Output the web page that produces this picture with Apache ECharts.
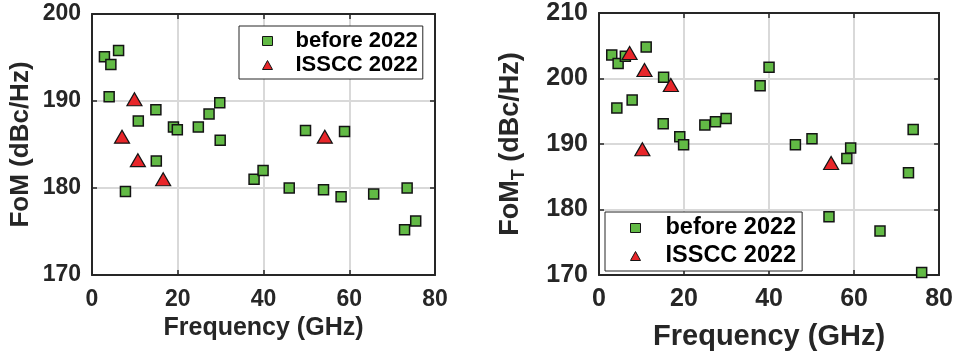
<!DOCTYPE html>
<html>
<head>
<meta charset="utf-8">
<script src="https://cdn.jsdelivr.net/npm/echarts@6/dist/echarts.min.js"></script>
<style>
  html, body { margin: 0; padding: 0; background: #ffffff; }
  #chart { width: 956px; height: 356px; }
</style>
</head>
<body>
<div id="chart"></div>
<script>
// Frequency ticks shared by both panels
const freqTicks = [0, 20, 40, 60, 80];
const fomTicks = [170, 180, 190, 200];
const fomTTicks = [170, 180, 190, 200, 210];

// FoM panel: designs published before 2022
const fomBeforeFreq = [2.9, 4.4, 6.2, 4.0, 10.8, 14.9, 7.8, 15.0, 19.0, 19.9, 24.8, 27.3, 29.8, 29.9, 37.8, 39.9, 46.0, 49.8, 54.0, 58.1, 58.9, 65.7, 73.5, 72.9, 75.5];
const fomBeforeVal  = [195.1, 194.2, 195.8, 190.5, 187.7, 189.0, 179.6, 183.1, 187.0, 186.7, 187.0, 188.5, 189.8, 185.5, 181.0, 182.0, 180.0, 186.6, 179.8, 179.0, 186.5, 179.3, 180.0, 175.2, 176.2];
// FoM panel: ISSCC 2022 designs
const fomIssccFreq = [9.9, 7.0, 10.7, 16.6, 54.3];
const fomIssccVal  = [190.2, 185.9, 183.2, 181.0, 185.9];

// FoM_T panel: designs published before 2022
const fomTBeforeFreq = [3.0, 4.5, 6.2, 11.1, 4.2, 7.8, 15.2, 15.1, 19.0, 19.9, 24.9, 27.4, 29.9, 37.9, 40.0, 46.2, 50.1, 54.1, 58.3, 59.2, 66.1, 72.8, 73.9, 75.9];
const fomTBeforeVal  = [203.6, 202.3, 203.4, 204.8, 195.5, 196.7, 200.2, 193.1, 191.1, 189.9, 192.9, 193.4, 193.9, 198.9, 201.7, 189.9, 190.8, 178.9, 187.8, 189.4, 176.7, 185.6, 192.2, 170.4];
// FoM_T panel: ISSCC 2022 designs
const fomTIssccFreq = [7.2, 10.7, 16.9, 10.2, 54.6];
const fomTIssccVal  = [203.9, 201.3, 199.0, 189.2, 187.1];

const zip = (xs, ys) => xs.map((x, i) => [x, ys[i]]);

const FONT = "'Liberation Sans', Arial, sans-serif";
const INK = '#262626';
const GREEN = '#62ba45';
const RED = '#e8262a';
const EDGE = '#141414';

function mainX(gridIndex, fontSize, nameSize, nameGap, labelMargin) {
  return {
    type: 'value', gridIndex, position: 'bottom',
    min: 0, max: 80, interval: 20,
    name: 'Frequency (GHz)', nameLocation: 'middle', nameGap,
    nameTextStyle: { fontFamily: FONT, fontWeight: 'bold', fontSize: nameSize, color: INK },
    axisLine: { show: true, onZero: false, lineStyle: { color: INK, width: 2 } },
    axisTick: { show: true, inside: true, length: 5, lineStyle: { color: INK, width: 1.5 } },
    axisLabel: {
      margin: labelMargin, fontFamily: FONT, fontWeight: 'bold', fontSize, color: INK,
      formatter: v => freqTicks.includes(v) ? String(v) : ''
    },
    splitLine: { show: true, showMinLine: false, showMaxLine: false, lineStyle: { color: '#d9d9d9', width: 2 } },
    z: 1
  };
}
function frameX(gridIndex) {
  return {
    type: 'value', gridIndex, position: 'top',
    min: 0, max: 80, interval: 20,
    axisLine: { show: true, onZero: false, lineStyle: { color: INK, width: 2 } },
    axisTick: { show: true, inside: true, length: 5, lineStyle: { color: INK, width: 1.5 } },
    axisLabel: { show: false }, splitLine: { show: false }, z: 3
  };
}
function mainY(gridIndex, min, max, ticks, fontSize, name, nameStyle, nameGap) {
  return {
    type: 'value', gridIndex, position: 'left',
    min, max, interval: 10,
    name, nameLocation: 'middle', nameGap,
    nameTextStyle: nameStyle,
    axisLine: { show: true, onZero: false, lineStyle: { color: INK, width: 2 } },
    axisTick: { show: true, inside: true, length: 5, lineStyle: { color: INK, width: 1.5 } },
    axisLabel: {
      margin: 11, fontFamily: FONT, fontWeight: 'bold', fontSize, color: INK,
      formatter: v => ticks.includes(v) ? String(v) : ''
    },
    splitLine: { show: true, showMinLine: false, showMaxLine: false, lineStyle: { color: '#d9d9d9', width: 2 } },
    z: 1
  };
}
function frameY(gridIndex, min, max) {
  return {
    type: 'value', gridIndex, position: 'right',
    min, max, interval: 10,
    axisLine: { show: true, onZero: false, lineStyle: { color: INK, width: 2 } },
    axisTick: { show: true, inside: true, length: 5, lineStyle: { color: INK, width: 1.5 } },
    axisLabel: { show: false }, splitLine: { show: false }, z: 3
  };
}
function squares(xi, yi, data) {
  return {
    type: 'scatter', name: 'before 2022', xAxisIndex: xi, yAxisIndex: yi,
    data, symbol: 'rect', symbolSize: 10, clip: false,
    itemStyle: { color: GREEN, borderColor: EDGE, borderWidth: 1.5, opacity: 1 },
    z: 4
  };
}
function triangles(xi, yi, data) {
  return {
    type: 'scatter', name: 'ISSCC 2022', xAxisIndex: xi, yAxisIndex: yi,
    data, symbol: 'triangle', symbolSize: [15, 13], clip: false,
    itemStyle: { color: RED, borderColor: EDGE, borderWidth: 1.2, opacity: 1 },
    z: 5
  };
}
// Boxed legend; the text sits well to the right of the small marker icon
function legend(left, top, fontSize, textIndent, itemGap, padding) {
  return {
    orient: 'vertical', left, top, itemWidth: 10, itemHeight: 9, itemGap, padding,
    selectedMode: false,
    backgroundColor: '#ffffff', borderColor: INK, borderWidth: 1,
    borderRadius: 0,
    formatter: name => '{p|' + name + '}',
    textStyle: {
      fontFamily: FONT, fontWeight: 'bold', fontSize, color: '#000000',
      rich: { p: { fontFamily: FONT, fontWeight: 'bold', fontSize, color: '#000000', padding: [0, 0, 0, textIndent] } }
    },
    itemStyle: { borderWidth: 1 },
    data: ['before 2022', 'ISSCC 2022'],
    z: 10
  };
}

const chart = echarts.init(document.getElementById('chart'), null, { renderer: 'canvas' });
chart.setOption({
  animation: false,
  backgroundColor: '#ffffff',
  grid: [
    { left: 92, top: 14, width: 343, height: 261, containLabel: false },
    { left: 599, top: 13, width: 343, height: 263, containLabel: false }
  ],
  xAxis: [
    mainX(0, 23, 25, 40, 13), frameX(0),
    mainX(1, 25, 29, 47, 12), frameX(1)
  ],
  yAxis: [
    mainY(0, 170, 200, fomTicks, 23, 'FoM (dBc/Hz)',
      { fontFamily: FONT, fontWeight: 'bold', fontSize: 26, color: INK }, 58),
    frameY(0, 170, 200),
    mainY(1, 170, 210, fomTTicks, 25, '{m|FoM}{t|T}{m| (dBc/Hz)}',
      {
        fontFamily: FONT, fontWeight: 'bold', fontSize: 27, color: INK,
        rich: {
          m: { fontFamily: FONT, fontWeight: 'bold', fontSize: 27, color: INK, lineHeight: 34 },
          t: { fontFamily: FONT, fontWeight: 'bold', fontSize: 18, color: INK, lineHeight: 18, verticalAlign: 'bottom' }
        }
      }, 71),
    frameY(1, 170, 210)
  ],
  legend: [
    legend(239, 26, 22, 18, 2, [4, 5, 3, 23]),
    legend(605, 212, 23.5, 20, 4, [4, 6, 3, 25])
  ],
  series: [
    squares(0, 0, zip(fomBeforeFreq, fomBeforeVal)),
    triangles(0, 0, zip(fomIssccFreq, fomIssccVal)),
    squares(2, 2, zip(fomTBeforeFreq, fomTBeforeVal)),
    triangles(2, 2, zip(fomTIssccFreq, fomTIssccVal))
  ]
});
</script>
</body>
</html>
